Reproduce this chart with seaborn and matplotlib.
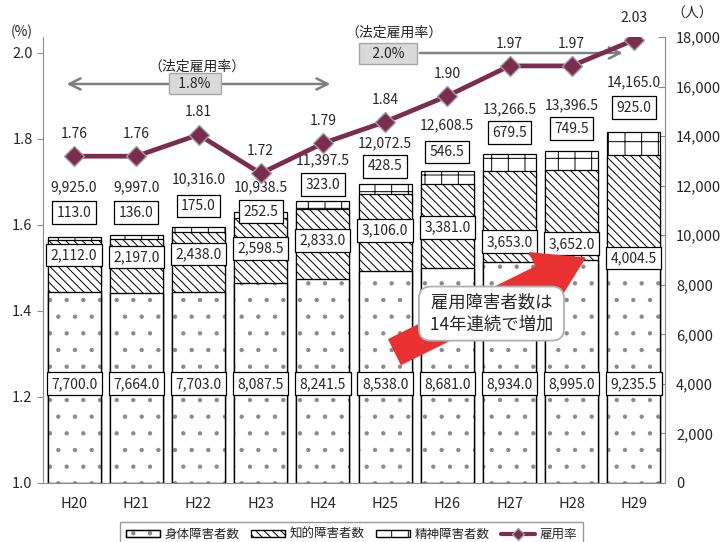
import numpy as np
import pandas as pd
import matplotlib
matplotlib.use("Agg")
import matplotlib.pyplot as plt
import seaborn as sns
from matplotlib.patches import Patch, FancyArrowPatch
from matplotlib.lines import Line2D
from matplotlib.ticker import FuncFormatter, FixedLocator

# ---- data -------------------------------------------------------------
years = ["H20", "H21", "H22", "H23", "H24", "H25", "H26", "H27", "H28", "H29"]
physical = [7700.0, 7664.0, 7703.0, 8087.5, 8241.5, 8538.0, 8681.0, 8934.0, 8995.0, 9235.5]
intellectual = [2112.0, 2197.0, 2438.0, 2598.5, 2833.0, 3106.0, 3381.0, 3653.0, 3652.0, 4004.5]
mental = [113.0, 136.0, 175.0, 252.5, 323.0, 428.5, 546.5, 679.5, 749.5, 925.0]
totals = [9925.0, 9997.0, 10316.0, 10938.5, 11397.5, 12072.5, 12608.5, 13266.5, 13396.5, 14165.0]
rates = [1.76, 1.76, 1.81, 1.72, 1.79, 1.84, 1.90, 1.97, 1.97, 2.03]

# heights (persons axis) where the value labels sit
physical_label_y = [4000] * 10
intellectual_label_y = [9200, 9120, 9240, 9480, 9780, 10180, 10300, 9730, 9650, 9080]
mental_label_y = [10900, 10900, 11180, 10940, 12030, 12790, 13360, 14130, 14290, 15140]
total_label_y = [11950, 11950, 12270, 11950, 13040, 13720, 14450, 15100, 15260, 16180]

# ---- style ------------------------------------------------------------
sns.set_style("white")
plt.rcParams["font.family"] = ["Noto Sans CJK JP", "DejaVu Sans"]
plt.rcParams["hatch.linewidth"] = 0.7
plt.rcParams["hatch.color"] = "black"

LINE_COLOR = "#7b2c4f"
SPINE = "#8c8c8c"
RED = "#ea3131"
DOT = "#8a8a8a"

fig = plt.figure(figsize=(7.23, 5.42), dpi=100)
ax = fig.add_axes([43 / 723, 1 - 483 / 542, (665 - 43) / 723, (483 - 37) / 542])
ax2 = ax.twinx()

# ---- stacked bars (persons, right axis) -------------------------------
lower = [p + i for p, i in zip(physical, intellectual)]
top = [l + m for l, m in zip(lower, mental)]
df = pd.DataFrame({"year": years, "top": top, "lower": lower, "physical": physical})

# each layer is drawn over the taller one below it
layers = [("top", "+", "black"), ("lower", "\\\\\\\\", "black"), ("physical", ".", DOT)]
for col, hatch, ec in layers:
    sns.barplot(data=df, x="year", y=col, ax=ax2, color="white", edgecolor=ec,
                linewidth=0.9, width=0.85, saturation=1, errorbar=None)
    for bar in ax2.containers[-1]:
        bar.set_hatch(hatch)
# black outline around the dotted segment
sns.barplot(data=df, x="year", y="physical", ax=ax2, fill=False, color="black",
            linewidth=0.9, width=0.85, saturation=1, errorbar=None)

box = dict(boxstyle="square,pad=0.32", fc="white", ec="black", lw=0.9)
fs = 10
for i in range(len(years)):
    ax2.text(i, physical_label_y[i], f"{physical[i]:,.1f}", ha="center", va="center",
             fontsize=fs, bbox=box, zorder=5)
    ax2.text(i, intellectual_label_y[i], f"{intellectual[i]:,.1f}", ha="center", va="center",
             fontsize=fs, bbox=box, zorder=5)
    ax2.text(i, mental_label_y[i], f"{mental[i]:,.1f}", ha="center", va="center",
             fontsize=fs, bbox=box, zorder=5)
    ax2.text(i, total_label_y[i], f"{totals[i]:,.1f}", ha="center", va="center",
             fontsize=fs, zorder=5)

ax2.set_ylim(0, 18000)
ax2.yaxis.set_major_locator(FixedLocator(np.arange(0, 18001, 2000)))
ax2.yaxis.set_major_formatter(FuncFormatter(lambda v, p: f"{v:,.0f}"))
ax2.tick_params(axis="y", direction="in", length=5, color=SPINE, labelsize=10.5, pad=8)
ax2.set_ylabel("")
ax2.set_xlabel("")

# ---- employment rate line (%, left axis) ------------------------------
ax.set_zorder(ax2.get_zorder() + 1)
ax.patch.set_visible(False)
sns.lineplot(x=np.arange(len(years)), y=rates, ax=ax, color=LINE_COLOR, linewidth=3.4,
             marker="D", markersize=10, markerfacecolor=LINE_COLOR,
             markeredgecolor="#a0a0a0", markeredgewidth=1, zorder=4)
for i, r in enumerate(rates):
    ax.annotate(f"{r:.2f}", (i, r), xytext=(0, 16), textcoords="offset points",
                ha="center", va="center", fontsize=fs)

ax.set_ylim(1.0, 1.0 + 446 / 430)
ax.yaxis.set_major_locator(FixedLocator([1.0, 1.2, 1.4, 1.6, 1.8, 2.0]))
ax.yaxis.set_major_formatter(FuncFormatter(lambda v, p: f"{v:.1f}"))
ax.tick_params(axis="y", direction="out", length=4, color=SPINE, labelsize=10.5)
ax.set_xlim(-0.5, len(years) - 0.5)
ax.set_xticks(np.arange(len(years)))
ax.set_xticklabels(years, fontsize=10.5)
ax.set_xticks(np.arange(len(years) + 1) - 0.5, minor=True)
ax.tick_params(axis="x", which="major", length=0, pad=10)
ax.tick_params(axis="x", which="minor", length=5, color=SPINE, direction="out")
ax.set_xlabel("")
ax.set_ylabel("")

for a in (ax, ax2):
    a.spines["top"].set_visible(False)
    for s in a.spines.values():
        s.set_color(SPINE)
ax.spines["right"].set_visible(False)
ax2.spines["left"].set_visible(False)
ax2.spines["bottom"].set_visible(False)

fig.text(22 / 723, 1 - 32 / 542, "(%)", ha="center", va="center", fontsize=10)
fig.text(692 / 723, 1 - 14 / 542, "（人）", ha="center", va="center", fontsize=10)

# ---- statutory rate arrows --------------------------------------------
ax.annotate("", xy=(-0.12, 1.928), xytext=(4.12, 1.928),
            arrowprops=dict(arrowstyle="<->,head_length=0.8,head_width=0.4",
                            color="#808080", lw=1.8, shrinkA=0, shrinkB=0))
gray_box = dict(boxstyle="square,pad=0.25", fc="#d9d9d9", ec="#a6a6a6", lw=1)
ax.text(1.94, 1.928, "  1.8%  ", ha="center", va="center", fontsize=fs, bbox=gray_box, zorder=6)
ax.text(1.98, 1.968, "（法定雇用率）", ha="center", va="center", fontsize=fs)

ax.annotate("", xy=(8.82, 2.0), xytext=(5.56, 2.0),
            arrowprops=dict(arrowstyle="->,head_length=0.8,head_width=0.4",
                            color="#808080", lw=1.8, shrinkA=0, shrinkB=0))
ax.text(5.05, 1.998, "   2.0%   ", ha="center", va="center", fontsize=fs, bbox=gray_box, zorder=6)
ax.text(5.15, 2.047, "（法定雇用率）", ha="center", va="center", fontsize=fs, clip_on=False)

# ---- growth arrow and callout -----------------------------------------
arrow = FancyArrowPatch((5.16, 1.305), (8.21, 1.523),
                        arrowstyle="simple,head_length=34,head_width=42,tail_width=20",
                        mutation_scale=1, color=RED, shrinkA=0, shrinkB=0, zorder=5)
ax.add_patch(arrow)
ax.text(6.71, 1.394, " 雇用障害者数は \n 14年連続で増加 ", ha="center", va="center",
        fontsize=12.5, linespacing=1.3, zorder=7,
        bbox=dict(boxstyle="round,pad=0.4,rounding_size=0.7", fc="white",
                  ec="#b0b0b0", lw=1.3))

# ---- legend -------------------------------------------------------------
dots = (Patch(facecolor="white", edgecolor=DOT, hatch="."),
        Patch(fill=False, edgecolor="black"))
handles = [
    dots,
    Patch(facecolor="white", edgecolor="black", hatch="\\\\\\\\"),
    Patch(facecolor="white", edgecolor="black", hatch="+"),
    Line2D([], [], color=LINE_COLOR, lw=3, marker="D", markersize=6,
           markerfacecolor=LINE_COLOR, markeredgecolor="#a0a0a0"),
]
labels = ["身体障害者数", "知的障害者数", "精神障害者数", "雇用率"]
leg = fig.legend(handles=handles, labels=labels, ncol=4, loc="upper center",
                 bbox_to_anchor=(351.5 / 723, 1 - 516 / 542), fontsize=9,
                 frameon=True, fancybox=False, edgecolor="#808080",
                 handlelength=2.7, handleheight=0.6, handletextpad=0.4,
                 columnspacing=0.9, borderpad=0.45)
leg.get_frame().set_linewidth(1.0)

fig.savefig("out.png", dpi=100)
